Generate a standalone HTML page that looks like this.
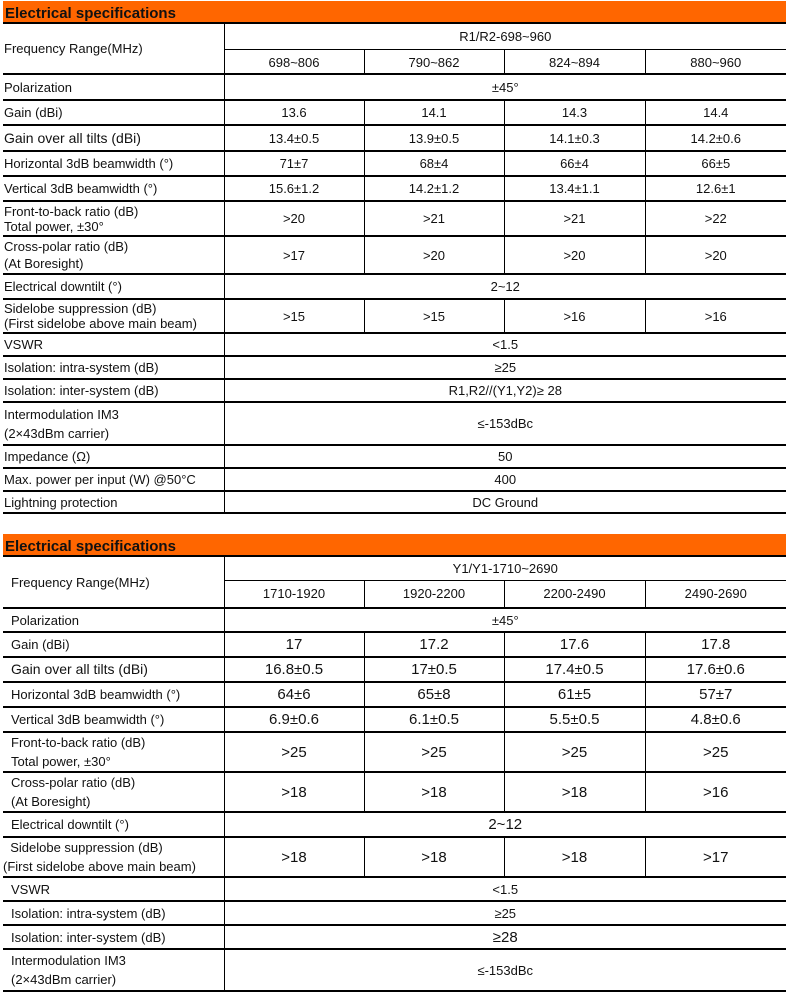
<!DOCTYPE html>
<html><head><meta charset="utf-8"><style>
body{margin:0;width:786px;height:996px;background:#fff;position:relative;overflow:hidden;font-family:"Liberation Sans",Arial,sans-serif;color:#111}
.hd{position:absolute;left:3px;width:783px;height:23px;background:#ff6600;font-weight:bold;font-size:15px;line-height:25px;padding-left:2px;box-sizing:border-box;border-bottom:2px solid #000}
table{position:absolute;left:3px;width:783px;border-collapse:collapse;table-layout:fixed;font-size:13px}
td{border-bottom:2px solid #000;border-left:1.5px solid #000;text-align:center;padding:0;vertical-align:middle;line-height:15px}
td.l{border-left:none;text-align:left;padding-left:1px}
.b td.l{padding-left:8px}
.b td{font-size:15px}
.b td.l,.b td.s{font-size:13px}
</style></head><body>
<div class="hd" style="top:1px">Electrical specifications</div>
<table style="top:24px">
<colgroup><col style="width:221px"><col style="width:140px"><col style="width:140px"><col style="width:141px"><col style="width:141px"></colgroup>
<tr style="height:25px"><td class="l" rowspan="2">Frequency Range(MHz)</td><td colspan="4" style="border-bottom:1.5px solid #000">R1/R2-698~960</td></tr>
<tr style="height:25px"><td style="padding-top:3px">698~806</td><td style="padding-top:3px">790~862</td><td style="padding-top:3px">824~894</td><td style="padding-top:3px">880~960</td></tr>
<tr style="height:26px"><td class="l">Polarization</td><td colspan="4">±45°</td></tr>
<tr style="height:25px"><td class="l">Gain (dBi)</td><td>13.6</td><td>14.1</td><td>14.3</td><td>14.4</td></tr>
<tr style="height:26px"><td class="l" style="font-size:14px">Gain over all tilts (dBi)</td><td>13.4±0.5</td><td>13.9±0.5</td><td>14.1±0.3</td><td>14.2±0.6</td></tr>
<tr style="height:25px"><td class="l">Horizontal 3dB beamwidth (°)</td><td>71±7</td><td>68±4</td><td>66±4</td><td>66±5</td></tr>
<tr style="height:25px"><td class="l">Vertical 3dB beamwidth (°)</td><td>15.6±1.2</td><td>14.2±1.2</td><td>13.4±1.1</td><td>12.6±1</td></tr>
<tr style="height:35px"><td class="l">Front-to-back ratio (dB)<br>Total power, ±30°</td><td>&gt;20</td><td>&gt;21</td><td>&gt;21</td><td>&gt;22</td></tr>
<tr style="height:38px"><td class="l" style="line-height:17px">Cross-polar ratio (dB)<br>(At Boresight)</td><td>&gt;17</td><td>&gt;20</td><td>&gt;20</td><td>&gt;20</td></tr>
<tr style="height:25px"><td class="l">Electrical downtilt (°)</td><td colspan="4">2~12</td></tr>
<tr style="height:34px"><td class="l">Sidelobe suppression (dB)<br>(First sidelobe above main beam)</td><td>&gt;15</td><td>&gt;15</td><td>&gt;16</td><td>&gt;16</td></tr>
<tr style="height:23px"><td class="l">VSWR</td><td colspan="4">&lt;1.5</td></tr>
<tr style="height:23px"><td class="l">Isolation: intra-system (dB)</td><td colspan="4">≥25</td></tr>
<tr style="height:23px"><td class="l">Isolation: inter-system (dB)</td><td colspan="4">R1,R2//(Y1,Y2)≥ 28</td></tr>
<tr style="height:43px"><td class="l" style="line-height:19px">Intermodulation IM3<br>(2×43dBm carrier)</td><td colspan="4">≤-153dBc</td></tr>
<tr style="height:23px"><td class="l">Impedance (Ω)</td><td colspan="4">50</td></tr>
<tr style="height:23px"><td class="l">Max. power per input (W) @50°C</td><td colspan="4">400</td></tr>
<tr style="height:22px"><td class="l">Lightning protection</td><td colspan="4">DC Ground</td></tr>
</table>

<div class="hd" style="top:534px">Electrical specifications</div>
<table class="b" style="top:557px">
<colgroup><col style="width:221px"><col style="width:140px"><col style="width:140px"><col style="width:141px"><col style="width:141px"></colgroup>
<tr style="height:23px"><td class="l" rowspan="2">Frequency Range(MHz)</td><td class="s" colspan="4" style="border-bottom:1.5px solid #000">Y1/Y1-1710~2690</td></tr>
<tr style="height:28px"><td class="s">1710-1920</td><td class="s">1920-2200</td><td class="s">2200-2490</td><td class="s">2490-2690</td></tr>
<tr style="height:24px"><td class="l">Polarization</td><td class="s" colspan="4">±45°</td></tr>
<tr style="height:25px"><td class="l">Gain (dBi)</td><td>17</td><td>17.2</td><td>17.6</td><td>17.8</td></tr>
<tr style="height:25px"><td class="l" style="font-size:14px">Gain over all tilts (dBi)</td><td>16.8±0.5</td><td>17±0.5</td><td>17.4±0.5</td><td>17.6±0.6</td></tr>
<tr style="height:25px"><td class="l">Horizontal 3dB beamwidth (°)</td><td>64±6</td><td>65±8</td><td>61±5</td><td>57±7</td></tr>
<tr style="height:25px"><td class="l">Vertical 3dB beamwidth (°)</td><td>6.9±0.6</td><td>6.1±0.5</td><td>5.5±0.5</td><td>4.8±0.6</td></tr>
<tr style="height:38px"><td class="l" style="line-height:19px">Front-to-back ratio (dB)<br>Total power, ±30°</td><td>&gt;25</td><td>&gt;25</td><td>&gt;25</td><td>&gt;25</td></tr>
<tr style="height:38px"><td class="l" style="line-height:19px">Cross-polar ratio (dB)<br>(At Boresight)</td><td>&gt;18</td><td>&gt;18</td><td>&gt;18</td><td>&gt;16</td></tr>
<tr style="height:25px"><td class="l">Electrical downtilt (°)</td><td colspan="4">2~12</td></tr>
<tr style="height:40px"><td class="l" style="line-height:19px;padding-left:0">&nbsp;&nbsp;Sidelobe suppression (dB)<br>(First sidelobe above main beam)</td><td>&gt;18</td><td>&gt;18</td><td>&gt;18</td><td>&gt;17</td></tr>
<tr style="height:24px"><td class="l">VSWR</td><td class="s" colspan="4">&lt;1.5</td></tr>
<tr style="height:24px"><td class="l">Isolation: intra-system (dB)</td><td class="s" colspan="4">≥25</td></tr>
<tr style="height:24px"><td class="l">Isolation: inter-system (dB)</td><td colspan="4">≥28</td></tr>
<tr style="height:42px"><td class="l" style="line-height:19px">Intermodulation IM3<br>(2×43dBm carrier)</td><td class="s" colspan="4">≤-153dBc</td></tr>
</table>
</body></html>
